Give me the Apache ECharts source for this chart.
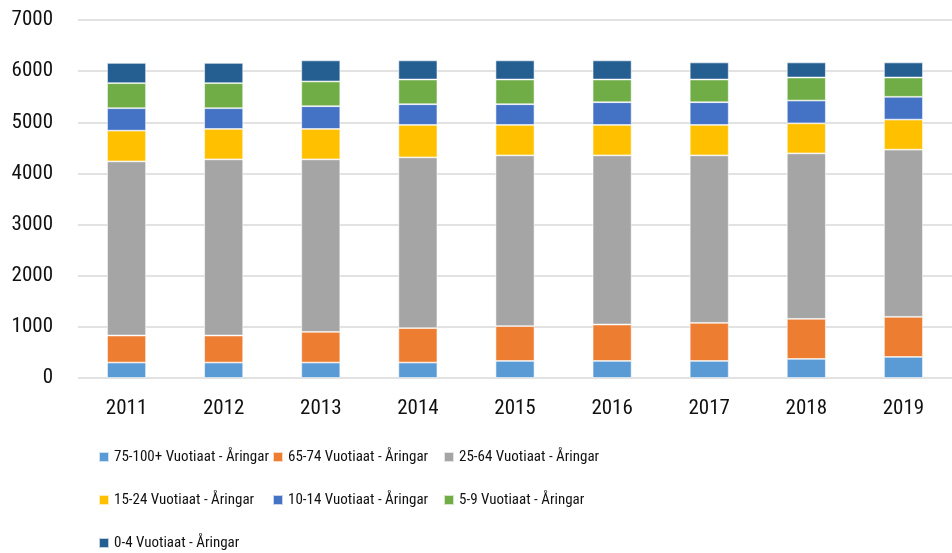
<!DOCTYPE html>
<html>
<head>
<meta charset="utf-8">
<script src="https://cdn.jsdelivr.net/npm/echarts@6/dist/echarts.min.js"></script>
<style>
html,body{margin:0;padding:0;background:#fff;}
#c{width:952px;height:553px;}
</style>
</head>
<body>
<div id="c"></div>
<script>
var years = ['2011','2012','2013','2014','2015','2016','2017','2018','2019'];
var seriesNames = ['75-100+ Vuotiaat - Åringar','65-74 Vuotiaat - Åringar','25-64 Vuotiaat - Åringar','15-24 Vuotiaat - Åringar','10-14 Vuotiaat - Åringar','5-9 Vuotiaat - Åringar','0-4 Vuotiaat - Åringar'];
var age75plus = [302, 302, 302, 302, 333, 333, 333, 373, 412];
var age65_74  = [529, 529, 600, 673, 681, 713, 745, 784, 784];
var age25_64  = [3404, 3444, 3373, 3339, 3339, 3307, 3275, 3235, 3269];
var age15_24  = [602, 595, 595, 634, 595, 595, 595, 588, 588];
var age10_14  = [438, 405, 444, 405, 405, 444, 444, 445, 445];
var age5_9    = [490, 490, 484, 484, 484, 445, 445, 451, 378];
var age0_4    = [395, 395, 412, 373, 373, 373, 333, 294, 294];
var yTicks = [0, 1000, 2000, 3000, 4000, 5000, 6000, 7000];

var colors = ['#5B9BD5','#ED7D31','#A5A5A5','#FFC000','#4472C4','#70AD47','#255E91'];
var allData = [age75plus, age65_74, age25_64, age15_24, age10_14, age5_9, age0_4];
var FONT = '"Roboto Condensed","Open Sans Condensed","DejaVu Sans Condensed",sans-serif';

var series = seriesNames.map(function(n, i){
  return {
    name: n, type: 'bar', stack: 'total', data: allData[i],
    barWidth: 39,
    itemStyle: {color: colors[i], borderColor: 'rgba(255,255,255,0.7)', borderWidth: 0.8},
    emphasis: {disabled: true}
  };
});

// legend slot positions (left, vertical centre) for each series in order
var legendLeft = [98, 272, 443, 98, 272, 443, 98];
var legendMid  = [457, 457, 457, 500, 500, 500, 543];

var legends = seriesNames.map(function(n, i){
  return {
    data: [n], orient: 'horizontal', left: legendLeft[i], top: legendMid[i] - 10,
    padding: 0, itemWidth: 10, itemHeight: 10, itemGap: 0,
    icon: 'rect',
    textStyle: {fontFamily: FONT, fontSize: 15, lineHeight: 20, color: '#111111'},
    selectedMode: false
  };
});

var chart = echarts.init(document.getElementById('c'), null, {renderer: 'canvas'});
chart.setOption({
  animation: false,
  color: colors,
  grid: {left: 78, top: 20, width: 882, height: 358, containLabel: false},
  xAxis: {
    type: 'category', data: years,
    axisLine: {show: false}, axisTick: {show: false},
    axisLabel: {fontFamily: FONT, fontSize: 21, color: '#111111', margin: 20}
  },
  yAxis: {
    type: 'value', min: yTicks[0], max: yTicks[yTicks.length-1], interval: 1000,
    axisLine: {show: false}, axisTick: {show: false},
    axisLabel: {fontFamily: FONT, fontSize: 21, color: '#111111', margin: 25,
      formatter: function(v){ return String(v); }},
    splitLine: {lineStyle: {color: '#d9d9d9', width: 1.5}}
  },
  legend: legends,
  series: series
});
</script>
</body>
</html>
